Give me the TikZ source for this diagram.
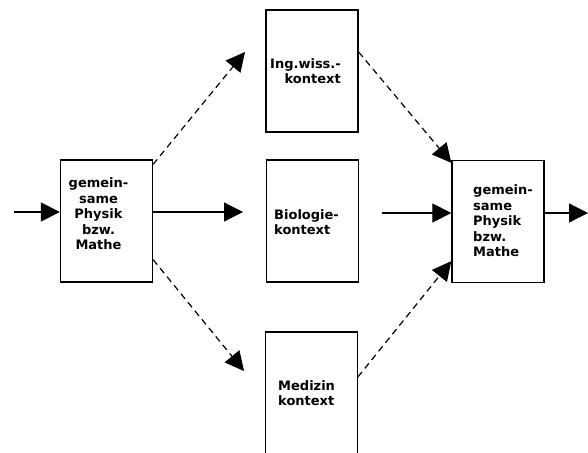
\documentclass[tikz,border=0pt]{standalone}
\usepackage{fontspec}
\setmainfont{DejaVu Sans}
\usetikzlibrary{arrows.meta,calc}
\tikzset{
  box/.style={draw=black,line width=1.3pt,minimum width=92pt,minimum height=122pt,inner sep=0pt},
  lbl/.style={font=\bfseries\fontsize{13}{15.5}\selectfont,inner sep=0pt},
  conn/.style={line width=1.2pt,-{Triangle[length=19pt,width=19pt]}},
  dconn/.style={conn,dash pattern=on 6.5pt off 4.5pt}
}
\begin{document}
\begin{tikzpicture}[x=1pt,y=-1pt]
\useasboundingbox (0,0) rectangle (588,452);
\clip (0,0) rectangle (588,452);
% boxes
\node[box] (lbox) at (106.5,221) {};
\node[box] (bbox) at (312.5,221) {};
\node[box] (tbox) at (312,71) {};
\node[box] (mbox) at (311.5,393) {};
\node[box] (rbox) at (498,221.5) {};
% texts
\node[lbl,align=center] (ltxt) at (98.5,214) {gemein-\\same\\Physik\\bzw.\\Mathe};
\node[lbl,align=right,anchor=east] (ttxt) at (341,71) {Ing.wiss.-\\kontext};
\node[lbl,align=left,anchor=west] (btxt) at (274,222) {Biologie-\\kontext};
\node[lbl,align=left,anchor=west] (mtxt) at (278,393) {Medizin\\kontext};
\node[lbl,align=left,anchor=west] (rtxt) at (473,221) {gemein-\\same\\Physik\\bzw.\\Mathe};
% coordinates
\coordinate (inS) at (14,212);
\coordinate (bioT) at (243,212);
\coordinate (rinS) at (382,213);
\coordinate (outT) at (588,213);
\coordinate (upT) at (245,52);
\coordinate (dnT) at (244,371);
% solid arrows
\draw[conn] (inS) -- (lbox.west |- inS);
\draw[conn] (lbox.east |- bioT) -- (bioT);
\draw[conn] (rinS) -- (rbox.west |- rinS);
\draw[conn] (rbox.east |- outT) -- (outT);
% dashed arrows
\draw[dconn] ($(lbox.north east)+(0,5)$) -- (upT);
\draw[dconn] ($(lbox.south east)+(0,-23)$) -- (dnT);
\draw[dconn] ($(tbox.east)+(0,-19)$) -- ($(rbox.north west)+(0,3)$);
\draw[dconn] ($(mbox.west)+(93,-16)$) -- ($(rbox.south west)+(0,-22)$);
\end{tikzpicture}
\end{document}
